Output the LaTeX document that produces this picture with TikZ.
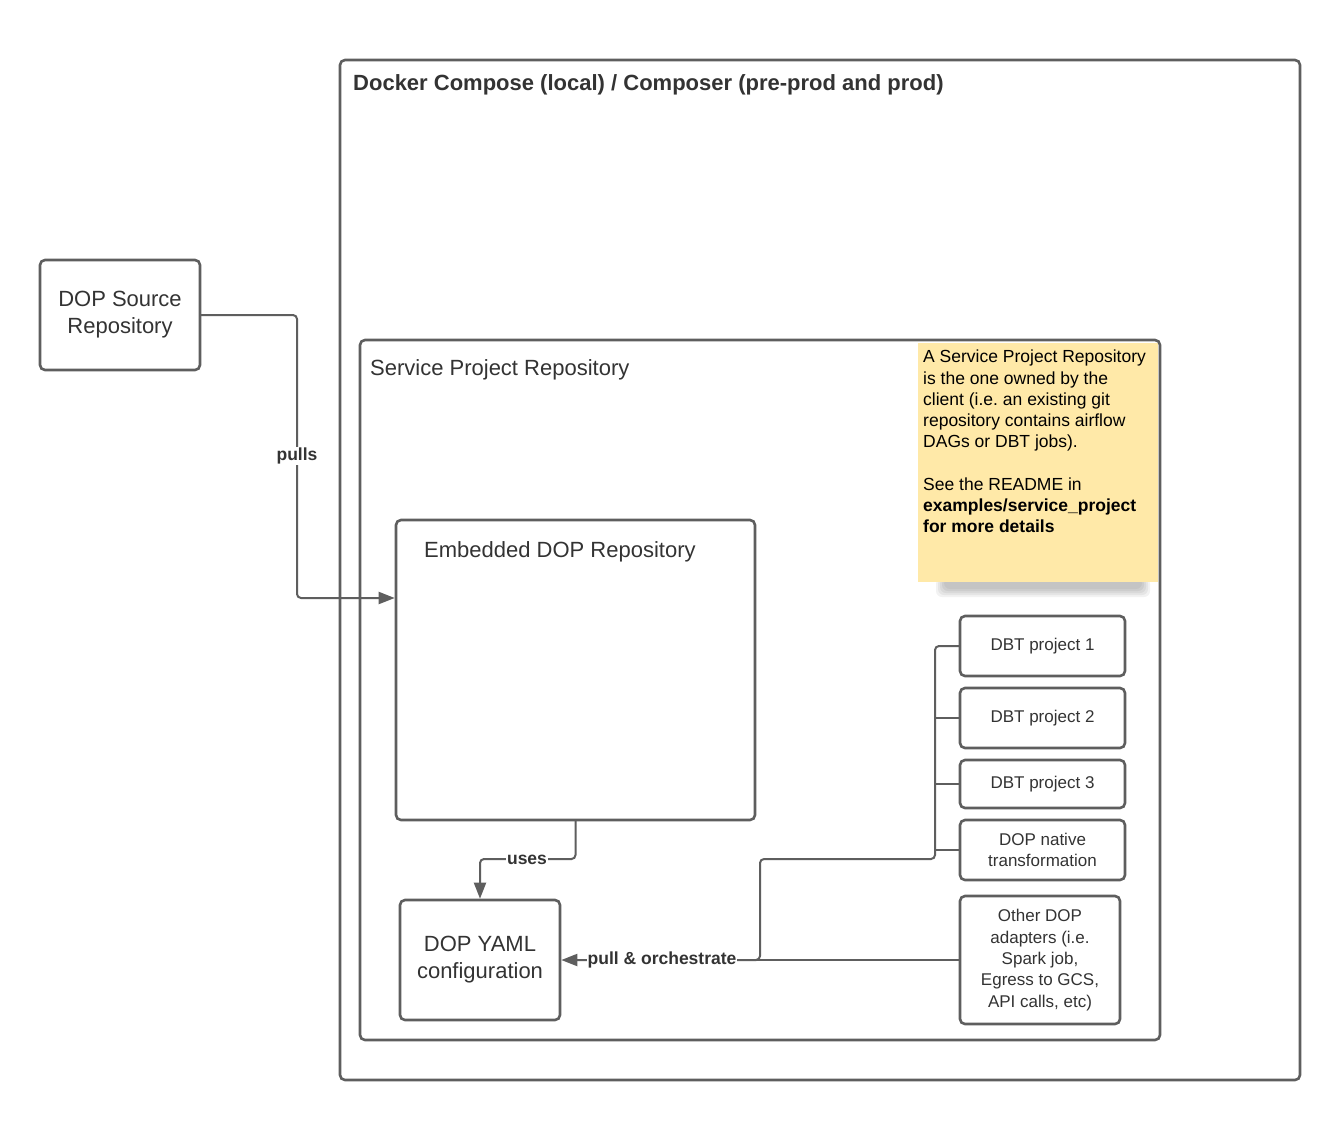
\documentclass[tikz,border=0pt]{standalone}
\usepackage{fontspec}
\setmainfont{Liberation Sans}
\usetikzlibrary{arrows.meta}
\definecolor{linegray}{HTML}{5E5E5E}
\definecolor{txt}{HTML}{333333}
\definecolor{notefill}{HTML}{FFE9A8}
\newcommand\myfs[2]{\fontsize{#1}{#2}\selectfont}
\begin{document}
\begin{tikzpicture}[x=1pt,y=-1pt,
 box/.style={draw=linegray, line width=2.6pt, rounded corners=5pt, text=txt, inner sep=0pt, outer sep=0pt, align=center},
 bigtext/.style={font=\myfs{22}{27}},
 smalltext/.style={font=\myfs{17}{21.3}},
 conn/.style={draw=linegray, line width=2pt, rounded corners=4pt},
 tip/.style={-{Triangle[length=16pt,width=12pt]}, shorten >=1.3pt},
 lbl/.style={fill=white, text=txt, font=\myfs{17.5}{21}\bfseries, inner sep=1pt},
 title/.style={text=txt, inner sep=0pt, anchor=base west},
]
\frenchspacing
\useasboundingbox[fill=white] (0,0) rectangle (1340,1120);

% outer container
\node[box, anchor=north west, minimum width=960pt, minimum height=1020pt] (outer) at (340,60) {};
\node[title, font=\myfs{22}{27}\bfseries] (outertitle) at (353,90) {Docker Compose (local) / Composer (pre-prod and prod)};

% note shadow
\foreach \d/\o in {0/0.05,2/0.05,4/0.05,6/0.05,8/0.04}{
  \fill[black, opacity=\o, rounded corners=6pt] (936+\d,578) rectangle (1150-\d,589+8-\d);
}
% note
\fill[notefill] (918,343) rectangle (1158,582);

% service project repository
\node[box, anchor=north west, minimum width=800pt, minimum height=700pt] (service) at (360,340) {};
\node[title, font=\myfs{22}{27}] (servicetitle) at (370,375) {Service Project Repository};

\node[anchor=north west, text=black, inner sep=0pt, align=left, font=\myfs{17.5}{21.25}] (notetext) at (923,350)
 {A Service Project Repository\\is the one owned by the\\client (i.e.\ an existing git\\repository contains airflow\\DAGs or DBT jobs).\\\mbox{}\\See the README in\\\textbf{examples/service\_project}\\\textbf{for more details}};

% source repository
\node[box, bigtext, anchor=north west, minimum width=160pt, minimum height=110pt] (src) at (40,260) {DOP Source\\Repository};

% embedded
\node[box, anchor=north west, minimum width=359pt, minimum height=300pt] (emb) at (396,520) {};
\node[title, font=\myfs{22}{27}] (embtitle) at (424,557) {Embedded DOP Repository};

% yaml
\node[box, bigtext, anchor=north west, minimum width=160pt, minimum height=120pt] (yaml) at (400,900) {DOP YAML\\configuration};

% right column
\node[box, smalltext, anchor=north west, minimum width=165pt, minimum height=60pt] (dbt1) at (960,616) {\raisebox{3pt}{DBT project 1}};
\node[box, smalltext, anchor=north west, minimum width=165pt, minimum height=60pt] (dbt2) at (960,688) {\raisebox{3pt}{DBT project 2}};
\node[box, smalltext, anchor=north west, minimum width=165pt, minimum height=48pt] (dbt3) at (960,760) {\raisebox{2pt}{DBT project 3}};
\node[box, smalltext, anchor=north west, minimum width=165pt, minimum height=60pt] (native) at (960,820) {DOP native\\transformation};
\node[box, smalltext, anchor=north west, minimum width=160pt, minimum height=128pt] (other) at (960,896) {Other DOP\\adapters (i.e.\\Spark job,\\Egress to GCS,\\API calls, etc)};

% connectors
\draw[conn, tip] (src.east) -- (297,315) -- (297,598) -- (emb.west |- 0,598);
\node[lbl] (pullslbl) at (297,456) {pulls};

\draw[conn, tip] (emb.south) -- (575.5,859) -- (480,859) -- (yaml.north);
\node[lbl] (useslbl) at (527,860) {uses};

\draw[conn] (dbt2.west) -- (935,718);
\draw[conn] (dbt3.west) -- (935,784);
\draw[conn] (native.west) -- (935,850);
\draw[conn, tip] (dbt1.west) -- (935,646) -- (935,859) -- (760,859) -- (760,960) -- (yaml.east);
\draw[conn] (other.west) -- (752,960);
\node[lbl] (pulllbl) at (662,960) {pull \& orchestrate};
\end{tikzpicture}
\end{document}
